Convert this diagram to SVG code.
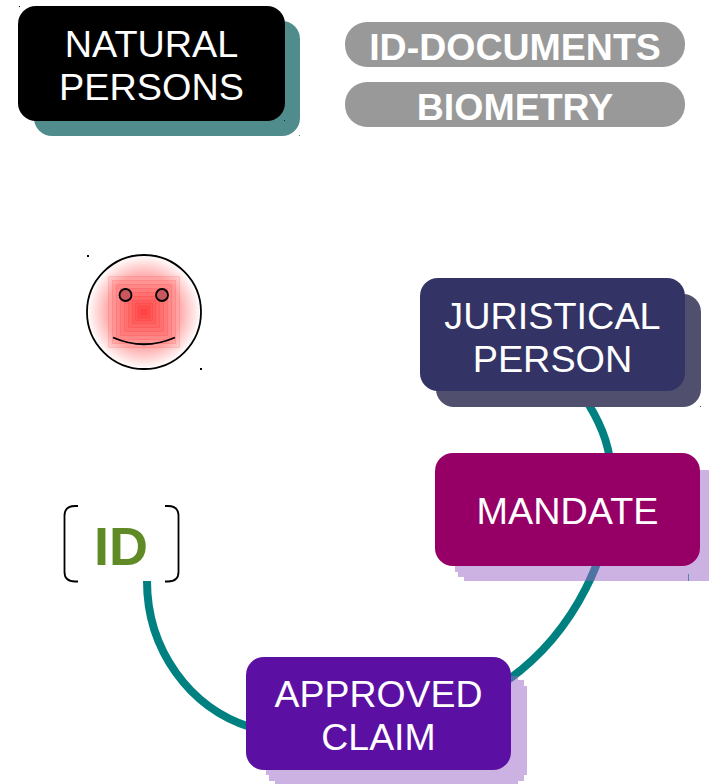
<svg xmlns="http://www.w3.org/2000/svg" width="709" height="784" viewBox="0 0 709 784">
<style>
.t{font-family:"Liberation Sans",Arial,sans-serif;fill:#fff;text-anchor:middle;font-size:37.800px}
.b{font-weight:bold;font-size:37.500px}
.s{fill:#9965c5;fill-opacity:.5}
.sq{fill:#f00;fill-opacity:.08;stroke:#f00;stroke-opacity:.12;stroke-width:1}
.dot{fill:#000}
</style>
<defs>
<radialGradient id="face" cx="144" cy="312" r="57" gradientUnits="userSpaceOnUse">
<stop offset="0" stop-color="#ffa8a8"/><stop offset=".65" stop-color="#ffb0b0"/><stop offset="1" stop-color="#fff"/>
</radialGradient>
</defs>
<g id="connectors" fill="none" stroke="#008080" stroke-width="8">
<path d="M147 581C147 650 190 708 250 727"/>
<path d="M589 405C603 428 611 450 612 480C614 550 575 632 508 680"/>
</g>
<g id="natural-persons">
<rect x="34" y="21" width="266" height="115" rx="18" fill="#508c8c"/>
<rect x="18" y="6" width="267" height="115" rx="18" fill="#000"/>
<text class="t" x="151.500" y="57">NATURAL</text>
<text class="t" x="151.500" y="100">PERSONS</text>
<rect class="dot" x="19" y="6" width="1" height="1"/>
<rect x="284" y="120" width="1" height="1" fill="#222"/>
<rect x="299" y="135" width="1" height="1" fill="#508c8c"/>
</g>
<g id="id-documents">
<rect x="345" y="22" width="340" height="45" rx="22" fill="#999"/>
<text class="t b" x="515" y="60">ID-DOCUMENTS</text>
</g>
<g id="biometry">
<rect x="345" y="82" width="340" height="45" rx="22" fill="#999"/>
<text class="t b" x="515" y="120">BIOMETRY</text>
</g>
<g id="face-node">
<circle cx="144" cy="312" r="57" fill="url(#face)"/>
<rect class="sq" x="108.500" y="276.500" width="71" height="71"/>
<rect class="sq" x="112.500" y="280.500" width="63" height="63"/>
<rect class="sq" x="116.500" y="284.500" width="55" height="55"/>
<rect class="sq" x="120.500" y="288.500" width="47" height="47"/>
<rect class="sq" x="124.500" y="292.500" width="39" height="39"/>
<rect class="sq" x="128.500" y="296.500" width="31" height="31"/>
<rect class="sq" x="132.500" y="300.500" width="23" height="23"/>
<rect class="sq" x="135.500" y="303.500" width="17" height="17"/>
<rect class="sq" x="138.500" y="306.500" width="11" height="11"/>
<rect class="sq" x="141.500" y="309.500" width="5" height="5"/>
<circle cx="144" cy="312" r="57" fill="none" stroke="#000" stroke-width="1.800"/>
<circle cx="125.500" cy="295" r="6" fill="#c8585c" stroke="#000" stroke-width="1.800"/>
<circle cx="162" cy="295" r="6" fill="#c8585c" stroke="#000" stroke-width="1.800"/>
<path d="M113 337.500Q144 351 175 337.500" fill="none" stroke="#000" stroke-width="1.800"/>
<rect class="dot" x="87" y="255" width="2" height="2"/>
<rect class="dot" x="200" y="368" width="2" height="2"/>
</g>
<g id="juristical-person">
<rect x="436" y="294" width="265" height="113" rx="18" fill="#50506e"/>
<rect x="420" y="278" width="265" height="113" rx="18" fill="#343365"/>
<text class="t" x="552.500" y="329">JURISTICAL</text>
<text class="t" x="552.500" y="372">PERSON</text>
<rect x="700" y="406" width="1" height="1" fill="#50506e"/>
</g>
<g id="mandate">
<path class="s" d="M455 470H709V581H464V577H458V572H455Z"/>
<rect x="688" y="574" width="1" height="7" fill="#5b82b5"/>
<rect x="435" y="453" width="265" height="113" rx="18" fill="#960066"/>
<text class="t" x="567.500" y="524">MANDATE</text>
</g>
<g id="id-node">
<path d="M78 506H75Q64.500 506 64.500 516V572Q64.500 581.500 75 581.500H78M165 506H168Q178.500 506 178.500 516V572Q178.500 581.500 168 581.500H165" fill="none" stroke="#000" stroke-width="1.800"/>
<text class="t b" x="121" y="565" style="fill:#5f8a26;font-size:54px">ID</text>
</g>
<g id="approved-claim">
<path class="s" d="M266 676H518V680H524V686H527V775H524V781H518V784H275V781H269V775H266Z"/>
<rect x="246" y="657" width="265" height="113" rx="18" fill="#5b0fa3"/>
<text class="t" x="378.500" y="707" style="font-size:37.400px">APPROVED</text>
<text class="t" x="378.500" y="750" style="font-size:37.400px">CLAIM</text>
</g>
</svg>
